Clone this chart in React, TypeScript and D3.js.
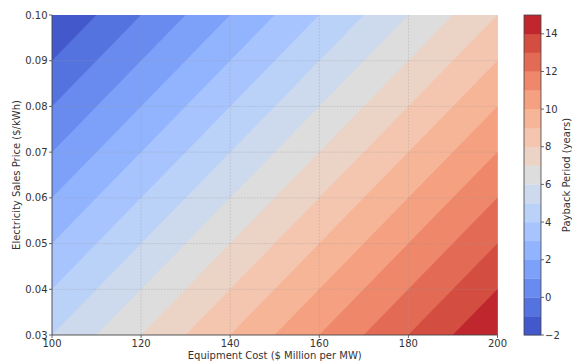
import React from "react";
import * as d3 from "d3";

// ---- data ----
const costs = [100, 120, 140, 160, 180, 200];
const prices = [0.03, 0.04, 0.05, 0.06, 0.07, 0.08, 0.09, 0.1];
// payback period (years), one row per price, one column per cost
const payback = [
  [5, 7, 9, 11, 13, 15],
  [4, 6, 8, 10, 12, 14],
  [3, 5, 7, 9, 11, 13],
  [2, 4, 6, 8, 10, 12],
  [1, 3, 5, 7, 9, 11],
  [0, 2, 4, 6, 8, 10],
  [-1, 1, 3, 5, 7, 9],
  [-2, 0, 2, 4, 6, 8],
];
const levels = [-2, -1, 0, 1, 2, 3, 4, 5, 6, 7, 8, 9, 10, 11, 12, 13, 14, 15];
const xTicks = [100, 120, 140, 160, 180, 200];
const yTicks = [0.03, 0.04, 0.05, 0.06, 0.07, 0.08, 0.09, 0.1];
const cbTicks = [-2, 0, 2, 4, 6, 8, 10, 12, 14];

// coolwarm colormap stops
const cwStops: [number, number, number][] = [
  [59, 76, 192], [68, 90, 204], [77, 104, 215], [87, 117, 225], [98, 130, 234],
  [108, 142, 241], [119, 154, 247], [130, 165, 251], [141, 176, 254], [152, 185, 255],
  [163, 194, 255], [174, 201, 253], [184, 208, 249], [194, 213, 244], [204, 217, 238],
  [213, 219, 230], [221, 221, 221], [229, 216, 209], [236, 211, 197], [241, 204, 185],
  [245, 196, 173], [247, 187, 160], [247, 177, 148], [247, 166, 135], [244, 154, 123],
  [241, 141, 111], [236, 127, 99], [229, 112, 88], [222, 96, 77], [213, 80, 66],
  [203, 62, 56], [192, 40, 47], [180, 4, 38],
];
const coolwarm = d3
  .scaleLinear<string>()
  .domain(cwStops.map((_, i) => i / (cwStops.length - 1)))
  .range(cwStops.map((c) => `rgb(${c[0]},${c[1]},${c[2]})`))
  .interpolate(d3.interpolateRgb)
  .clamp(true);

const W = 572, H = 362;
const L = 52, R = 497.5, T = 15, B = 335;
const CBX = 524, CBW = 17;
const FONT = "DejaVu Sans, sans-serif";
const TXT = "#333";

export default function App() {
  const x = d3.scaleLinear().domain([100, 200]).range([L, R]);
  const y = d3.scaleLinear().domain([0.03, 0.1]).range([B, T]);
  const vmin = levels[0], vmax = levels[levels.length - 1];
  const colorOf = (lo: number, hi: number) => coolwarm(((lo + hi) / 2 - vmin) / (vmax - vmin));

  const n = costs.length, m = prices.length;
  const values: number[] = [];
  for (let j = 0; j < m; j++) for (let i = 0; i < n; i++) values.push(payback[j][i]);
  const gx = d3.scaleLinear().domain([0.5, n - 0.5]).range([x(costs[0]), x(costs[n - 1])]);
  const gy = d3.scaleLinear().domain([0.5, m - 0.5]).range([y(prices[0]), y(prices[m - 1])]);
  const contours = d3.contours().size([n, m]).thresholds(levels.slice(0, -1))(values);
  const proj = d3.geoTransform({
    point(px: number, py: number) {
      (this as any).stream.point(gx(px), gy(py));
    },
  });
  const path = d3.geoPath(proj as any);

  const cb = d3.scaleLinear().domain([vmin, vmax]).range([B, T]);

  return (
    <svg width={W} height={H} style={{ position: "absolute", left: 0, top: 0, background: "#fff" }} fontFamily={FONT}>
      <defs>
        <clipPath id="plotClip">
          <rect x={L} y={T} width={R - L} height={B - T} />
        </clipPath>
      </defs>
      <g clipPath="url(#plotClip)">
        {contours.map((c, i) => (
          <path key={i} d={path(c as any) || ""} fill={colorOf(levels[i], levels[i + 1])} stroke={colorOf(levels[i], levels[i + 1])} strokeWidth={0.3} />
        ))}
      </g>
      {/* grid */}
      <g stroke="#999" strokeOpacity={0.4} strokeWidth={0.8} strokeDasharray="2,1.2">
        {xTicks.slice(1, -1).map((t) => (
          <line key={"gx" + t} x1={x(t)} x2={x(t)} y1={T} y2={B} />
        ))}
        {yTicks.slice(1, -1).map((t) => (
          <line key={"gy" + t} x1={L} x2={R} y1={y(t)} y2={y(t)} />
        ))}
      </g>
      {/* spines */}
      <line x1={L} x2={L} y1={T} y2={B} stroke="#444" strokeWidth={0.9} />
      <line x1={L} x2={R} y1={B} y2={B} stroke="#444" strokeWidth={0.9} />
      {/* x ticks */}
      {xTicks.map((t) => (
        <g key={"xt" + t}>
          <line x1={x(t)} x2={x(t)} y1={B} y2={B + 3} stroke="#444" strokeWidth={0.8} />
          <text x={x(t)} y={347} textAnchor="middle" fontSize={10} fill={TXT}>{t}</text>
        </g>
      ))}
      {yTicks.map((t) => (
        <g key={"yt" + t}>
          <line x1={L - 3} x2={L} y1={y(t)} y2={y(t)} stroke="#444" strokeWidth={0.8} />
          <text x={47.5} y={y(t) + 3.6} textAnchor="end" fontSize={10} fill={TXT}>{t.toFixed(2)}</text>
        </g>
      ))}
      <text x={(L + R) / 2} y={359} textAnchor="middle" fontSize={10} fill={TXT}>Equipment Cost ($ Million per MW)</text>
      <text transform={`translate(20,${(T + B) / 2}) rotate(-90)`} textAnchor="middle" fontSize={10} fill={TXT}>Electricity Sales Price ($/kWh)</text>
      {/* colorbar */}
      {levels.slice(0, -1).map((lv, i) => (
        <rect key={"cb" + i} x={CBX} width={CBW} y={cb(levels[i + 1])} height={cb(lv) - cb(levels[i + 1]) + 0.3} fill={colorOf(lv, levels[i + 1])} />
      ))}
      <rect x={CBX} y={T} width={CBW} height={B - T} fill="none" stroke="#444" strokeWidth={0.8} />
      {cbTicks.map((t) => (
        <g key={"cbt" + t}>
          <line x1={CBX + CBW} x2={CBX + CBW + 3} y1={cb(t)} y2={cb(t)} stroke="#444" strokeWidth={0.8} />
          <text x={CBX + CBW + 4} y={cb(t) + 3.6} fontSize={10} fill={TXT}>{t < 0 ? "\u2212" + Math.abs(t) : t}</text>
        </g>
      ))}
      <text transform={`translate(569.5,${(T + B) / 2}) rotate(-90)`} textAnchor="middle" fontSize={10} fill={TXT}>Payback Period (years)</text>
    </svg>
  );
}
